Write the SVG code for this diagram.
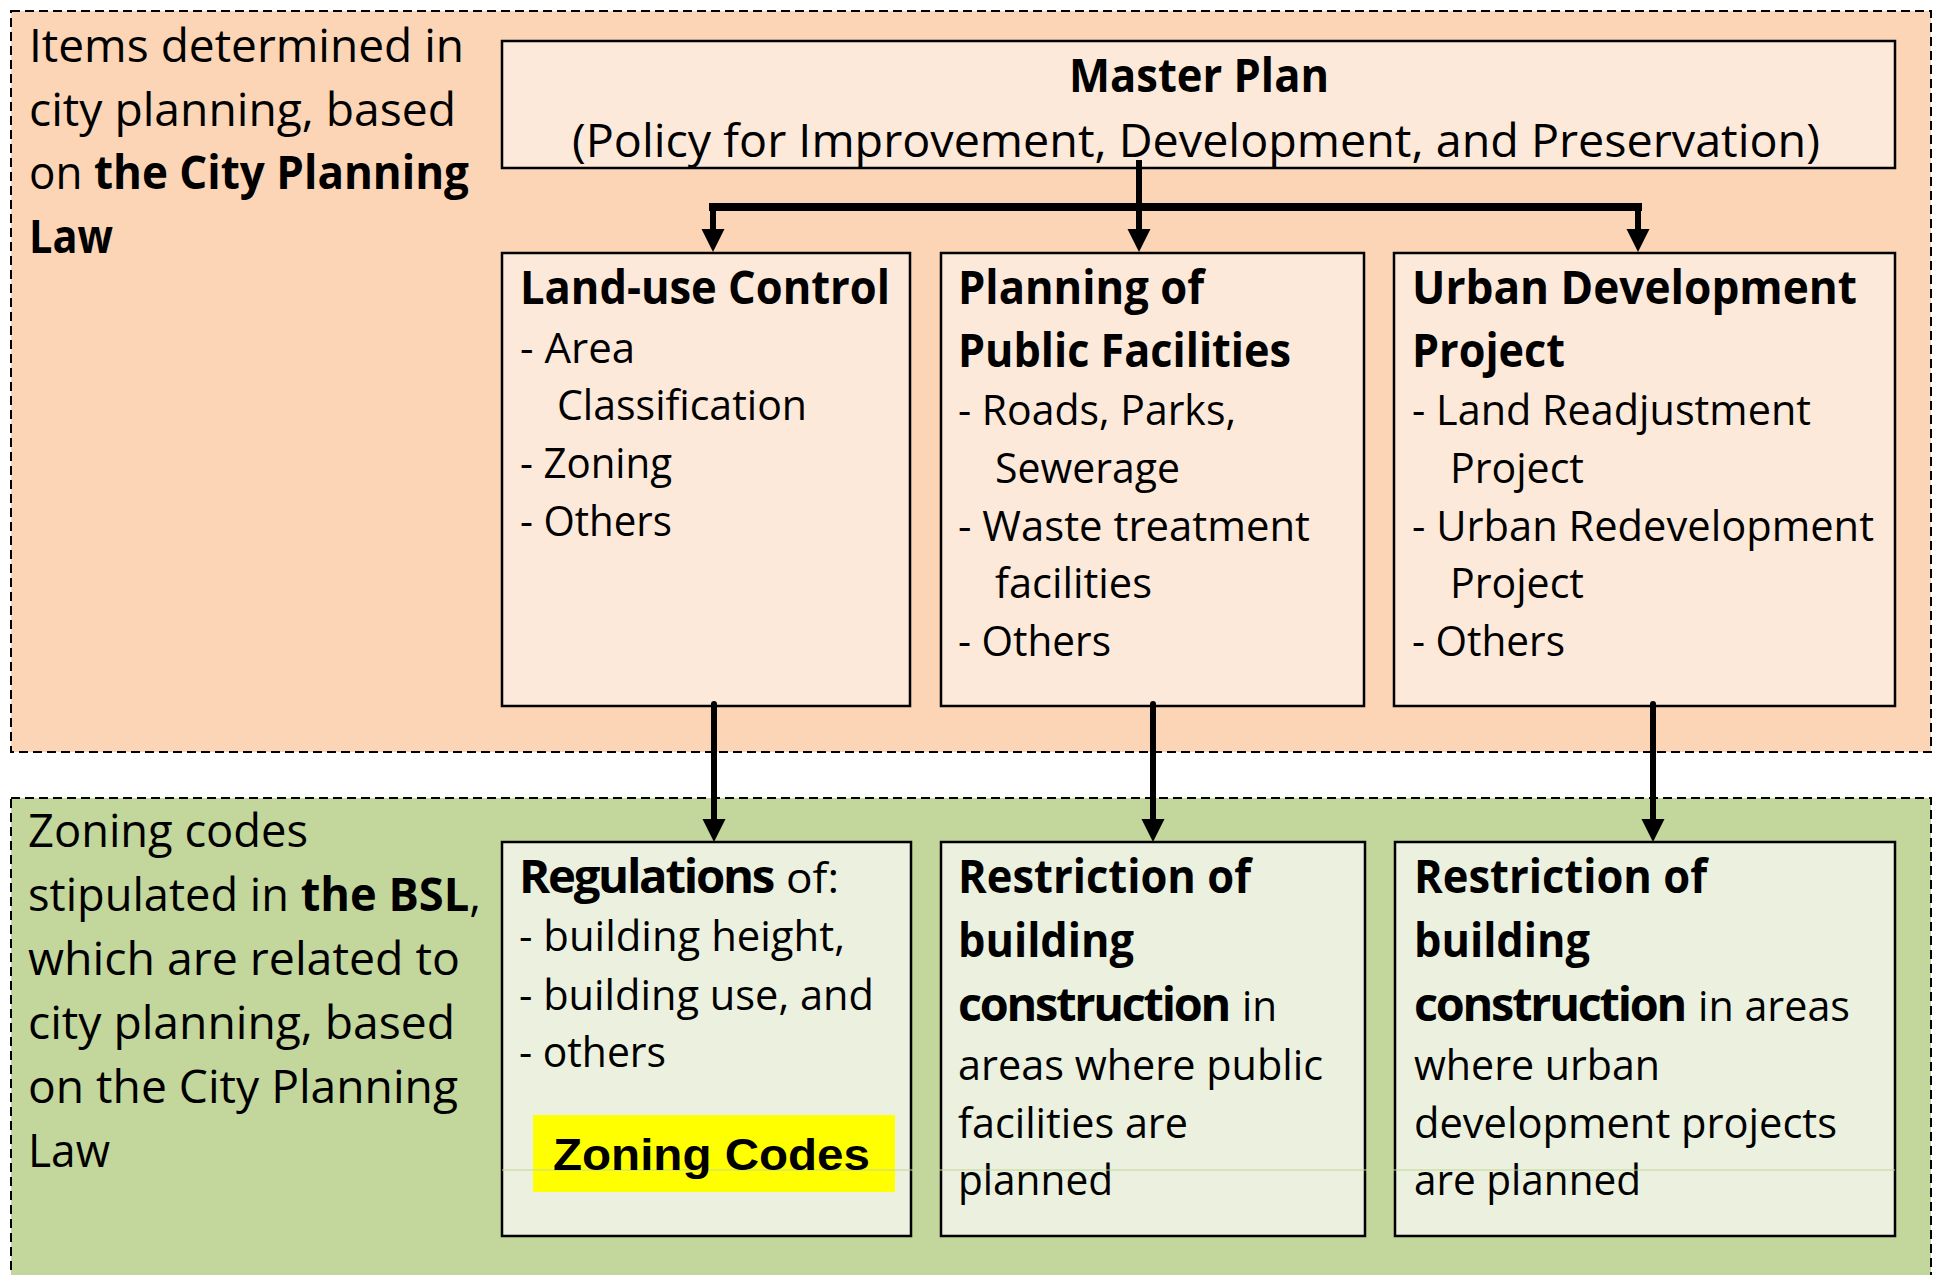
<svg xmlns="http://www.w3.org/2000/svg" width="1934" height="1275" viewBox="0 0 1934 1275">
<style>
text{font-family:"Open Sans","Noto Sans",sans-serif;fill:#000}
.h{font-size:46px}
.b{font-size:42px}
.bold{font-weight:bold}
.tight{letter-spacing:-2.2px}
.region{stroke:#000;stroke-width:2;stroke-dasharray:9 5}
.box{stroke:#000;stroke-width:2.5}
.peach{fill:#FDE9D9}
.green{fill:#EBF1DE}
.conn{stroke:#000;stroke-width:6;fill:none}
.zc{font-family:"Liberation Sans",Arial,sans-serif;font-weight:bold;font-size:45px}
</style>
<defs>
<marker id="ah" markerUnits="userSpaceOnUse" markerWidth="24" markerHeight="24" viewBox="0 0 24 24" refX="2" refY="11.5" orient="auto">
<path d="M0,0 L23,11.5 L0,23 z" fill="#000"/>
</marker>
</defs>

<g id="region-cpl">
<rect class="region" x="11" y="11" width="1920" height="741" fill="#FBD5B5"/>
<text class="h" x="29" y="62" textLength="435" lengthAdjust="spacingAndGlyphs">Items determined in</text>
<text class="h" x="29" y="126" textLength="427" lengthAdjust="spacingAndGlyphs">city planning, based</text>
<text class="h" x="29" y="189" textLength="440" lengthAdjust="spacingAndGlyphs">on <tspan class="bold">the City Planning</tspan></text>
<text class="h bold" x="29" y="253" textLength="84" lengthAdjust="spacingAndGlyphs">Law</text>
</g>

<g id="region-bsl">
<rect class="region" x="11" y="798" width="1920" height="500" fill="#C3D69B"/>
<text class="h" x="28" y="847" textLength="280" lengthAdjust="spacingAndGlyphs">Zoning codes</text>
<text class="h" x="28" y="911" textLength="453" lengthAdjust="spacingAndGlyphs">stipulated in <tspan class="bold">the BSL</tspan>,</text>
<text class="h" x="28" y="975" textLength="432" lengthAdjust="spacingAndGlyphs">which are related to</text>
<text class="h" x="28" y="1039" textLength="427" lengthAdjust="spacingAndGlyphs">city planning, based</text>
<text class="h" x="28" y="1103" textLength="430" lengthAdjust="spacingAndGlyphs">on the City Planning</text>
<text class="h" x="28" y="1167" textLength="82" lengthAdjust="spacingAndGlyphs">Law</text>
</g>

<g id="master-plan">
<rect class="box peach" x="502" y="41" width="1393" height="127"/>
<text class="h bold" x="1199" y="92" text-anchor="middle" textLength="260" lengthAdjust="spacingAndGlyphs">Master Plan</text>
<text class="h" x="572" y="157" textLength="1248" lengthAdjust="spacingAndGlyphs">(Policy for Improvement, Development, and Preservation)</text>
</g>

<g id="land-use-control">
<rect class="box peach" x="502" y="253" width="408" height="453"/>
<text class="h bold" x="520" y="304" textLength="370" lengthAdjust="spacingAndGlyphs">Land-use Control</text>
<text class="b" x="520" y="363">- Area</text>
<text class="b" x="557" y="420" textLength="250" lengthAdjust="spacingAndGlyphs">Classification</text>
<text class="b" x="520" y="478" textLength="152" lengthAdjust="spacingAndGlyphs">- Zoning</text>
<text class="b" x="520" y="536" textLength="152" lengthAdjust="spacingAndGlyphs">- Others</text>
</g>

<g id="public-facilities">
<rect class="box peach" x="941" y="253" width="423" height="453"/>
<text class="h bold" x="958" y="304" textLength="246" lengthAdjust="spacingAndGlyphs">Planning of</text>
<text class="h bold" x="958" y="367" textLength="333" lengthAdjust="spacingAndGlyphs">Public Facilities</text>
<text class="b" x="958" y="425" textLength="278" lengthAdjust="spacingAndGlyphs">- Roads, Parks,</text>
<text class="b" x="995" y="483" textLength="185" lengthAdjust="spacingAndGlyphs">Sewerage</text>
<text class="b" x="958" y="541" textLength="352" lengthAdjust="spacingAndGlyphs">- Waste treatment</text>
<text class="b" x="995" y="598" textLength="157" lengthAdjust="spacingAndGlyphs">facilities</text>
<text class="b" x="958" y="656" textLength="153" lengthAdjust="spacingAndGlyphs">- Others</text>
</g>

<g id="urban-development">
<rect class="box peach" x="1394" y="253" width="501" height="453"/>
<text class="h bold" x="1412" y="304" textLength="445" lengthAdjust="spacingAndGlyphs">Urban Development</text>
<text class="h bold" x="1412" y="367" textLength="153" lengthAdjust="spacingAndGlyphs">Project</text>
<text class="b" x="1412" y="425" textLength="399" lengthAdjust="spacingAndGlyphs">- Land Readjustment</text>
<text class="b" x="1450" y="483" textLength="134" lengthAdjust="spacingAndGlyphs">Project</text>
<text class="b" x="1412" y="541" textLength="462" lengthAdjust="spacingAndGlyphs">- Urban Redevelopment</text>
<text class="b" x="1450" y="598" textLength="134" lengthAdjust="spacingAndGlyphs">Project</text>
<text class="b" x="1412" y="656" textLength="153" lengthAdjust="spacingAndGlyphs">- Others</text>
</g>

<g id="regulations">
<rect class="box green" x="502" y="842" width="409" height="394"/>
<rect x="533" y="1115" width="362" height="77" fill="#FFFF00"/>
<text class="h bold tight" x="519" y="893" textLength="254" lengthAdjust="spacingAndGlyphs">Regulations</text>
<text class="b" x="786" y="893" textLength="53" lengthAdjust="spacingAndGlyphs">of:</text>
<text class="b" x="519" y="951" textLength="326" lengthAdjust="spacingAndGlyphs">- building height,</text>
<text class="b" x="519" y="1010" textLength="355" lengthAdjust="spacingAndGlyphs">- building use, and</text>
<text class="b" x="519" y="1067" textLength="147" lengthAdjust="spacingAndGlyphs">- others</text>
</g>

<g id="restriction-public">
<rect class="box green" x="941" y="842" width="424" height="394"/>
<text class="h bold" x="958" y="893" textLength="293" lengthAdjust="spacingAndGlyphs">Restriction of</text>
<text class="h bold" x="958" y="957" textLength="176" lengthAdjust="spacingAndGlyphs">building</text>
<text class="h bold tight" x="958" y="1021" textLength="271" lengthAdjust="spacingAndGlyphs">construction</text>
<text class="b" x="1242" y="1021" textLength="35" lengthAdjust="spacingAndGlyphs">in</text>
<text class="b" x="958" y="1080" textLength="365" lengthAdjust="spacingAndGlyphs">areas where public</text>
<text class="b" x="958" y="1138" textLength="230" lengthAdjust="spacingAndGlyphs">facilities are</text>
<text class="b" x="958" y="1195" textLength="155" lengthAdjust="spacingAndGlyphs">planned</text>
</g>

<g id="restriction-urban">
<rect class="box green" x="1395" y="842" width="500" height="394"/>
<text class="h bold" x="1414" y="893" textLength="293" lengthAdjust="spacingAndGlyphs">Restriction of</text>
<text class="h bold" x="1414" y="957" textLength="176" lengthAdjust="spacingAndGlyphs">building</text>
<text class="h bold tight" x="1414" y="1021" textLength="271" lengthAdjust="spacingAndGlyphs">construction</text>
<text class="b" x="1698" y="1021" textLength="152" lengthAdjust="spacingAndGlyphs">in areas</text>
<text class="b" x="1414" y="1080" textLength="246" lengthAdjust="spacingAndGlyphs">where urban</text>
<text class="b" x="1414" y="1138" textLength="423" lengthAdjust="spacingAndGlyphs">development projects</text>
<text class="b" x="1414" y="1195" textLength="227" lengthAdjust="spacingAndGlyphs">are planned</text>
</g>

<g id="guide-line">
<line x1="502" y1="1170" x2="1895" y2="1170" stroke="#C3D69B" stroke-width="1.2"/>
</g>
<text class="zc" x="553" y="1170" textLength="317" lengthAdjust="spacingAndGlyphs">Zoning Codes</text>

<g id="connectors">
<line class="conn" x1="1139" y1="160" x2="1139" y2="231"/>
<line x1="709" y1="207" x2="1642" y2="207" stroke="#000" stroke-width="8"/>
<line class="conn" x1="713" y1="207" x2="713" y2="231" marker-end="url(#ah)"/>
<line class="conn" x1="1139" y1="225" x2="1139" y2="231" marker-end="url(#ah)"/>
<line class="conn" x1="1638" y1="207" x2="1638" y2="231" marker-end="url(#ah)"/>
<line class="conn" x1="714" y1="704" x2="714" y2="821" stroke-linecap="round" marker-end="url(#ah)"/>
<line class="conn" x1="1153" y1="704" x2="1153" y2="821" stroke-linecap="round" marker-end="url(#ah)"/>
<line class="conn" x1="1653" y1="704" x2="1653" y2="821" stroke-linecap="round" marker-end="url(#ah)"/>
</g>
</svg>
